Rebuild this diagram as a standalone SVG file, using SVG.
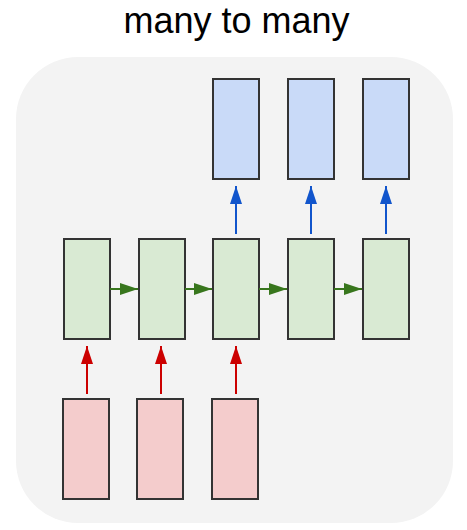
<svg xmlns="http://www.w3.org/2000/svg" width="467" height="530" viewBox="0 0 467 530">
<style>
.box{stroke:#333333;stroke-width:2}
.out{fill:#c9daf8}
.hid{fill:#d9ead3}
.inp{fill:#f4cccc}
.title{font-family:"Liberation Sans",Arial,sans-serif;font-size:36px;fill:#000}
</style>
<defs>
<marker id="ab" viewBox="0 0 18 12" refX="18" refY="6" markerWidth="18" markerHeight="12" markerUnits="userSpaceOnUse" orient="auto"><path d="M0,0 L18,6 L0,12 z" fill="#1155cc"/></marker>
<marker id="ag" viewBox="0 0 18 12" refX="18" refY="6" markerWidth="18" markerHeight="12" markerUnits="userSpaceOnUse" orient="auto"><path d="M0,0 L18,6 L0,12 z" fill="#38761d"/></marker>
<marker id="ar" viewBox="0 0 18 12" refX="18" refY="6" markerWidth="18" markerHeight="12" markerUnits="userSpaceOnUse" orient="auto"><path d="M0,0 L18,6 L0,12 z" fill="#cc0000"/></marker>
</defs>
<rect width="467" height="530" fill="#ffffff"/>
<text class="title" x="236.5" y="33" text-anchor="middle">many to many</text>
<rect id="panel" x="16" y="57" width="437" height="466" rx="62" fill="#f3f3f3"/>
<g id="out1"><rect class="box out" x="213" y="79" width="46" height="100"/></g>
<g id="out2"><rect class="box out" x="288" y="79" width="46" height="100"/></g>
<g id="out3"><rect class="box out" x="363" y="79" width="46" height="100"/></g>
<g id="h1"><rect class="box hid" x="64" y="239" width="46" height="100"/></g>
<g id="h2"><rect class="box hid" x="139" y="239" width="46" height="100"/></g>
<g id="h3"><rect class="box hid" x="213" y="239" width="46" height="100"/></g>
<g id="h4"><rect class="box hid" x="288" y="239" width="46" height="100"/></g>
<g id="h5"><rect class="box hid" x="363" y="239" width="46" height="100"/></g>
<g id="in1"><rect class="box inp" x="63" y="399" width="46" height="100"/></g>
<g id="in2"><rect class="box inp" x="137" y="399" width="46" height="100"/></g>
<g id="in3"><rect class="box inp" x="212" y="399" width="46" height="100"/></g>
<g id="connectors" stroke-width="2" fill="none">
<line x1="236" y1="234" x2="236" y2="186" stroke="#1155cc" marker-end="url(#ab)"/>
<line x1="311" y1="234" x2="311" y2="186" stroke="#1155cc" marker-end="url(#ab)"/>
<line x1="386" y1="234" x2="386" y2="186" stroke="#1155cc" marker-end="url(#ab)"/>
<line x1="110" y1="289" x2="138" y2="289" stroke="#38761d" marker-end="url(#ag)"/>
<line x1="185" y1="289" x2="212" y2="289" stroke="#38761d" marker-end="url(#ag)"/>
<line x1="259" y1="289" x2="287" y2="289" stroke="#38761d" marker-end="url(#ag)"/>
<line x1="334" y1="289" x2="362" y2="289" stroke="#38761d" marker-end="url(#ag)"/>
<line x1="87" y1="394" x2="87" y2="346" stroke="#cc0000" marker-end="url(#ar)"/>
<line x1="161" y1="394" x2="161" y2="346" stroke="#cc0000" marker-end="url(#ar)"/>
<line x1="236" y1="394" x2="236" y2="346" stroke="#cc0000" marker-end="url(#ar)"/>
</g>
</svg>
